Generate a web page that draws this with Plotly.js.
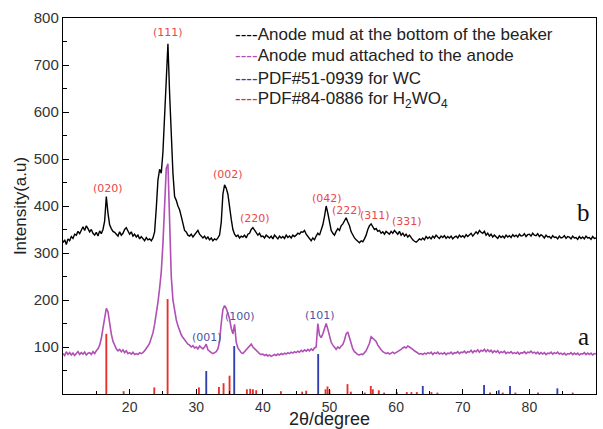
<!DOCTYPE html>
<html>
<head>
<meta charset="utf-8">
<script src="https://cdn.plot.ly/plotly-3.0.1.min.js"></script>
<style>html,body{margin:0;padding:0;background:#fff;}#chart{width:603px;height:429px;}</style>
</head>
<body>
<div id="chart"></div>
<script>
// 2-theta grid: start 10, step 0.25 degree (321 points)
const thetaStart = 10;
const thetaStep = 0.25;

// Curve b: anode mud at the bottom of the beaker
const curveB = [
 322,328,318,330, 326,335,331,340, 338,346,341,350, 356,348,358,352, 345,350,342,338,
 344,336,347,341, 350,368,420,385, 360,352,346,344, 340,336,345,338, 342,350,354,346,
 340,345,336,340, 334,338,330,335, 331,326,333,328, 330,326,332,345, 395,455,478,470,
 515,600,690,745, 640,540,470,420, 412,400,392,378, 360,348,345,338, 336,340,334,338,
 342,348,340,336, 332,336,330,334, 328,332,326,330, 328,332,338,365, 425,445,438,425,
 395,372,350,340, 335,338,332,336, 334,338,332,340, 342,350,354,348, 344,338,342,335,
 336,332,338,334, 332,336,330,338, 334,330,336,332, 335,331,338,333, 336,332,338,335,
 338,342,340,345, 344,348,340,336, 330,326,332,328, 336,342,338,348, 360,378,400,385,
 365,348,342,338, 346,352,348,358, 362,370,375,366, 358,345,338,332, 328,325,322,326,
 324,330,338,350, 358,362,355,350, 352,346,348,342, 345,340,346,342, 340,346,342,348,
 344,340,346,338, 342,336,340,334, 338,332,328,325, 323,326,330,328, 332,328,335,331,
 334,330,336,332, 338,334,331,336, 333,337,331,335, 332,336,330,334, 336,332,338,334,
 337,333,339,335, 338,342,336,340, 345,341,348,344, 342,346,338,342, 336,340,334,338,
 335,331,337,333, 336,332,338,334, 337,333,339,335, 338,334,340,336, 337,341,335,339,
 340,336,342,338, 337,341,335,339, 336,332,338,334, 335,331,337,333, 334,330,336,332,
 333,337,331,335, 334,330,336,332, 333,329,335,331, 334,330,336,332, 333,329,335,331,
 332
];

// Curve a: anode mud attached to the anode
const curveA = [
 86,82,90,84, 88,83,87,82, 86,90,84,88, 85,89,83,87, 88,84,90,86,
 92,96,104,118, 140,165,182,175, 150,128,112,102, 96,92,95,90, 94,88,92,86,
 88,85,89,84, 86,84,88,86, 88,92,96,102, 108,118,130,148, 170,195,225,260,
 320,410,480,490, 360,250,200,175, 158,145,135,126, 120,115,110,106, 104,100,103,98,
 100,96,102,98, 96,100,106,94, 90,88,86,88, 90,96,112,150, 180,188,182,172,
 160,140,128,148, 110,98,92,88, 86,90,94,98, 102,106,100,96, 92,88,86,84,
 85,82,84,81, 83,80,82,84, 82,85,83,86, 84,87,85,88, 86,89,87,90,
 88,91,89,93, 90,94,91,95, 92,96,93,98, 100,150,125,120, 128,140,150,138,
 122,110,104,98, 95,100,97,102, 105,115,128,132, 118,105,96,90, 86,84,83,85,
 84,88,92,100, 108,122,118,115, 112,104,98,94, 90,88,86,88, 85,87,89,86,
 88,90,92,95, 98,100,98,102, 100,98,95,92, 90,87,85,86, 84,87,85,88,
 86,89,84,88, 86,89,85,87, 85,88,84,87, 86,89,85,88, 87,90,86,89,
 88,91,87,90, 89,93,88,92, 90,94,89,93, 91,95,90,94, 90,93,88,92,
 89,92,87,90, 88,91,86,89, 87,90,86,88, 86,89,85,88, 87,90,86,89,
 88,91,87,89, 86,89,85,88, 85,88,84,87, 86,89,85,88, 86,89,85,87,
 84,87,83,86, 85,88,84,87, 84,87,83,86, 85,88,84,87, 84,87,83,86,
 85
];

// Reference pattern PDF#84-0886 (H2WO4)
const h2wo4Pos = [16.5,19.1,23.7,25.7,30.4,33.4,34.1,35.0,37.6,38.1,38.5,39.0,42.7,45.9,46.5,49.4,49.7,50.0,52.7,53.2,55.3,56.2,56.5,57.4,58.2,60.1,61.6,62.3,63.1,65.3,66.2,74.1,76.0,77.9,81.3,86.5];
const h2wo4Int = [128,6,14,202,14,15,23,39,10,11,10,8,6,5,7,10,16,8,21,5,3,17,10,8,3,4,4,4,4,4,3,3,3,3,3,3];

// Reference pattern PDF#51-0939 (WC)
const wcPos = [31.5,35.7,48.3,64.0,73.2,75.4,77.1,84.2];
const wcInt = [49,102,85,17,19,8,17,12];

// Peak labels
const redLabels = ['(020)','(111)','(002)','(220)','(042)','(222)','(311)','(331)'];
const redLabelX = [16.7,25.7,34.7,38.8,49.6,52.6,56.8,61.6];
const redLabelY = [438,770,466,374,417,391,379,366];
const blueLabels = ['(001)','(100)','(101)'];
const blueLabelX = [31.6,36.5,48.6];
const blueLabelY = [121,164,166];

const legendItems = [
  {dash:'#000000', text:'Anode mud at the bottom of the beaker'},
  {dash:'#b04fb5', text:'Anode mud attached to the anode'},
  {dash:'#3040b0', text:'PDF#51-0939 for WC'},
  {dash:'#e8302a', text:'PDF#84-0886 for H<sub>2</sub>WO<sub>4</sub>'}
];

const traces = [
  {type:'bar', x:h2wo4Pos, y:h2wo4Int, width:0.28, marker:{color:'#e8302a', line:{width:0}}, showlegend:false, hoverinfo:'skip'},
  {type:'bar', x:wcPos, y:wcInt, width:0.28, marker:{color:'#3040b0', line:{width:0}}, showlegend:false, hoverinfo:'skip'},
  {type:'scatter', mode:'lines', y:curveA, x0:thetaStart, dx:thetaStep, line:{color:'#b04fb5', width:1.6}, showlegend:false},
  {type:'scatter', mode:'lines', y:curveB, x0:thetaStart, dx:thetaStep, line:{color:'#000000', width:1.4}, showlegend:false}
];

const labelFont = 'DejaVu Sans, Liberation Sans, Arial';
const annotations = [];
redLabels.forEach((t,i)=>annotations.push({x:redLabelX[i], y:redLabelY[i], xref:'x', yref:'y', text:t, showarrow:false, font:{family:labelFont, size:11, color:'#e8474a'}}));
blueLabels.forEach((t,i)=>annotations.push({x:blueLabelX[i], y:blueLabelY[i], xref:'x', yref:'y', text:t, showarrow:false, font:{family:labelFont, size:11, color:'#4a55a8'}}));
const legendY = [0.957,0.899,0.840,0.782];
legendItems.forEach((it,i)=>annotations.push({x:0.319, y:legendY[i], xref:'paper', yref:'paper', xanchor:'left', yanchor:'middle', showarrow:false,
  text:'<span style="color:'+it.dash+'">----</span>'+it.text, font:{family:'Liberation Sans, Arial', size:17, color:'#222'}}));
annotations.push({x:88.1, y:387, xref:'x', yref:'y', text:'b', showarrow:false, font:{family:'Liberation Serif, Times New Roman', size:25, color:'#111'}});
annotations.push({x:88.1, y:123, xref:'x', yref:'y', text:'a', showarrow:false, font:{family:'Liberation Serif, Times New Roman', size:25, color:'#111'}});

const layout = {
  width:603, height:429,
  margin:{l:63, r:7, t:18, b:35},
  paper_bgcolor:'#fff', plot_bgcolor:'#fff',
  barmode:'overlay',
  showlegend:false,
  xaxis:{range:[10,90], tickvals:[20,30,40,50,60,70,80,90], ticks:'inside', ticklen:5, tickcolor:'#000',
    minor:{dtick:5, tick0:10, ticks:'inside', ticklen:3, tickcolor:'#000'},
    showline:true, linecolor:'#000', linewidth:1.2, mirror:true, showgrid:false, zeroline:false,
    tickfont:{family:'Liberation Sans, Arial', size:14, color:'#333'},
    title:{text:'2θ/degree', font:{family:'Liberation Sans, Arial', size:18, color:'#222'}, standoff:0}},
  yaxis:{range:[0,800], tickvals:[100,200,300,400,500,600,700,800], ticks:'inside', ticklen:6, tickcolor:'#000',
    minor:{dtick:50, tick0:0, ticks:'inside', ticklen:4, tickcolor:'#000'},
    showline:true, linecolor:'#000', linewidth:1.2, mirror:true, showgrid:false, zeroline:false,
    tickfont:{family:'Liberation Sans, Arial', size:15, color:'#333'},
    title:{text:'Intensity(a.u)', font:{family:'Liberation Sans, Arial', size:17, color:'#222'}, standoff:2}},
  annotations:annotations
};

Plotly.newPlot('chart', traces, layout, {staticPlot:true, displayModeBar:false});
</script>
</body>
</html>
